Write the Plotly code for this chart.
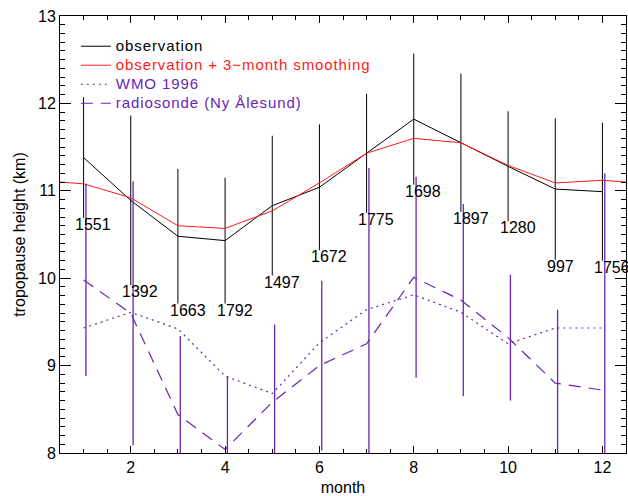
import plotly.graph_objects as go

# ---------------- data ----------------
months = [1, 2, 3, 4, 5, 6, 7, 8, 9, 10, 11, 12]
obs = [11.38, 10.89, 10.48, 10.43, 10.83, 11.04, 11.43, 11.82, 11.55, 11.28, 11.02, 10.99]
obs_sd = [0.69, 0.97, 0.77, 0.72, 0.80, 0.72, 0.68, 0.75, 0.79, 0.63, 0.81, 0.79]
counts = ["1551", "1392", "1663", "1792", "1497", "1672", "1775", "1698", "1897", "1280", "997", "1756"]

smooth_months = [0.5, 1, 2, 3, 4, 5, 6, 7, 8, 9, 10, 11, 12, 12.5]
smooth = [11.10, 11.08, 10.92, 10.60, 10.57, 10.77, 11.09, 11.43, 11.60, 11.55, 11.29, 11.09, 11.12, 11.10]

wmo = [9.43, 9.61, 9.42, 8.88, 8.68, 9.26, 9.64, 9.81, 9.61, 9.25, 9.43, 9.43]

sonde = [9.98, 9.60, 8.44, 8.04, 8.58, 9.00, 9.25, 10.01, 9.75, 9.32, 8.80, 8.72]
sonde_sd = [1.10, 1.51, 0.90, 0.84, 0.89, 0.97, 2.01, 1.15, 1.10, 0.72, 0.84, 2.48]

x_ticks = [2, 4, 6, 8, 10, 12]
y_ticks = [8, 9, 10, 11, 12, 13]

# ---------------- style ----------------
FONT = "Liberation Sans, Arial, sans-serif"
PURPLE = "#6a24b4"
RED = "#ff1a1a"
SONDE_DX = 0.05     # small horizontal offset of the radiosonde bars
LABEL_DX = -0.22    # count labels start slightly left of the month


def legend_label(text, color):
    return ('<span style="color:' + color +
            ';font-size:15px;letter-spacing:0.9px">' + text + '</span>')


fig = go.Figure()

fig.add_trace(go.Scatter(
    x=months, y=obs, mode="lines", name=legend_label("observation", "black"),
    line=dict(color="black", width=1),
    error_y=dict(type="data", array=obs_sd, visible=True, color="black",
                 thickness=1, width=0),
))
fig.add_trace(go.Scatter(
    x=smooth_months, y=smooth, mode="lines",
    name=legend_label("observation + 3\u2212month smoothing", RED),
    line=dict(color=RED, width=1),
))
fig.add_trace(go.Scatter(
    x=months, y=wmo, mode="lines",
    name=legend_label("WMO 1996", PURPLE),
    line=dict(color=PURPLE, width=1.2, dash="2px,4px"),
))
fig.add_trace(go.Scatter(
    x=months, y=sonde, mode="lines",
    name=legend_label("radiosonde (Ny \u00c5lesund)", PURPLE),
    line=dict(color=PURPLE, width=1.2, dash="12px,8px"),
))
fig.add_trace(go.Scatter(
    x=[m + SONDE_DX for m in months], y=sonde, mode="markers", showlegend=False,
    marker=dict(size=1, color="rgba(0,0,0,0)"),
    error_y=dict(type="data", array=sonde_sd, visible=True, color=PURPLE,
                 thickness=1.3, width=0),
))

for m, v, s, c in zip(months, obs, obs_sd, counts):
    fig.add_annotation(x=m + LABEL_DX, y=v - s, text=c, showarrow=False,
                       xanchor="left", yanchor="top", yshift=4,
                       font=dict(family=FONT, size=16, color="black"))

axis_common = dict(
    showline=True, linecolor="black", linewidth=1, mirror="ticks",
    ticks="inside", tickcolor="black", tickwidth=1,
    showgrid=False, zeroline=False,
    tickfont=dict(family=FONT, size=16, color="black"),
)

fig.update_xaxes(
    range=[0.5, 12.5], tickvals=x_ticks, ticklen=7,
    minor=dict(ticks="inside", ticklen=4, dtick=0.5, tick0=0.5, tickcolor="black", showgrid=False),
    title=dict(text="month", font=dict(family=FONT, size=16, color="black"), standoff=6),
    **axis_common,
)
fig.update_yaxes(
    range=[8, 13], tickvals=y_ticks, ticklen=11,
    minor=dict(ticks="inside", ticklen=5, dtick=0.1, tick0=8, tickcolor="black", showgrid=False),
    title=dict(text="tropopause height (km)", font=dict(family=FONT, size=16, color="black"), standoff=8),
    **axis_common,
)

fig.update_layout(
    width=628, height=496,
    margin=dict(l=60, r=2, t=16, b=43, autoexpand=False),
    paper_bgcolor="white", plot_bgcolor="white",
    font=dict(family=FONT, size=16, color="black"),
    showlegend=True,
    legend=dict(x=0.028, y=0.964, xanchor="left", yanchor="top",
                bgcolor="rgba(0,0,0,0)", borderwidth=0, itemwidth=30,
                font=dict(family=FONT, size=12, color="black"),
                tracegroupgap=0),
)

fig.write_html("out.html")
